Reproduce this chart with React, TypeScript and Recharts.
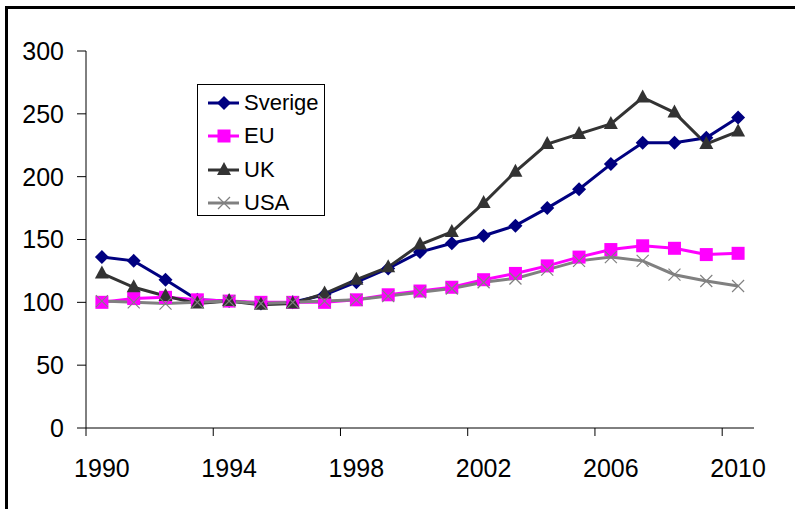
import React from 'react';
import { LineChart, Line, XAxis, YAxis, Legend } from 'recharts';

const years = [
  1990, 1991, 1992, 1993, 1994, 1995, 1996, 1997, 1998, 1999, 2000,
  2001, 2002, 2003, 2004, 2005, 2006, 2007, 2008, 2009, 2010,
];
const sverige = [136, 133, 118, 102, 101, 99, 100, 106, 116, 127, 140, 147, 153, 161, 175, 190, 210, 227, 227, 231, 247];
const eu = [100, 103, 104, 102, 101, 100, 100, 100, 102, 106, 109, 112, 118, 123, 129, 136, 142, 145, 143, 138, 139];
const uk = [123, 112, 105, 99, 101, 98, 99, 107, 118, 128, 146, 156, 179, 204, 226, 234, 242, 263, 251, 226, 236];
const usa = [101, 100, 99, 100, 101, 99, 100, 101, 102, 105, 108, 111, 116, 119, 126, 133, 136, 133, 122, 117, 113];
const yTicks = [0, 50, 100, 150, 200, 250, 300];

const data = years.map((year, i) => ({
  year,
  Sverige: sverige[i],
  EU: eu[i],
  UK: uk[i],
  USA: usa[i],
}));

const W = 795;
const H = 509;
const margin = { top: 51, right: 41, bottom: 21, left: 0 };
const Y_WIDTH = 86;
const X_HEIGHT = 60;
const plotWidth = W - margin.left - margin.right - Y_WIDTH;
const half = plotWidth / (years.length * 2);
const FONT = '"Liberation Sans", Arial, sans-serif';

const Diamond = ({ cx, cy, color }: any) => (
  <path d={`M${cx},${cy - 7}L${cx + 7},${cy}L${cx},${cy + 7}L${cx - 7},${cy}Z`} fill={color} />
);
const Square = ({ cx, cy, color }: any) => (
  <rect x={cx - 6.5} y={cy - 6.5} width={13} height={13} fill={color} />
);
const Triangle = ({ cx, cy, color }: any) => (
  <path d={`M${cx},${cy - 8}L${cx + 7},${cy + 5}L${cx - 7},${cy + 5}Z`} fill={color} />
);
const Cross = ({ cx, cy, color }: any) => (
  <g stroke={color} strokeWidth={1.2}>
    <line x1={cx - 6} y1={cy - 6} x2={cx + 6} y2={cy + 6} />
    <line x1={cx - 6} y1={cy + 6} x2={cx + 6} y2={cy - 6} />
  </g>
);

const series = [
  { key: 'Sverige', color: '#000080', Marker: Diamond },
  { key: 'EU', color: '#FF00FF', Marker: Square },
  { key: 'UK', color: '#333333', Marker: Triangle },
  { key: 'USA', color: '#808080', Marker: Cross },
];

// year labels sit on the points, tick marks sit between categories
const YearTick = (props: any) => {
  const { x, y, payload } = props;
  return (
    <g>
      <line x1={x - half} y1={y - 8} x2={x - half} y2={y} stroke="#000" />
      <text x={x} y={y + 41} textAnchor="middle" fill="#000" fontSize={25} fontFamily={FONT}>
        {payload.value}
      </text>
    </g>
  );
};

const renderLegend = () => (
  <div
    style={{
      width: 128,
      height: 132,
      border: '1px solid #000',
      background: '#fff',
      boxSizing: 'border-box',
      paddingTop: 1,
    }}
  >
    {series.map(({ key, color, Marker }) => (
      <div key={key} style={{ display: 'flex', alignItems: 'center', height: 33.5 }}>
        <svg width={46} height={20} style={{ flex: 'none' }}>
          <line x1={10} y1={10} x2={41} y2={10} stroke={color} strokeWidth={3} />
          <Marker cx={26} cy={10} color={color} />
        </svg>
        <span style={{ fontFamily: FONT, fontSize: 22, color: '#000', lineHeight: '22px' }}>{key}</span>
      </div>
    ))}
  </div>
);

export default function App() {
  return (
    <div style={{ position: 'fixed', left: 0, top: 0, width: W, height: H, background: '#fff', overflow: 'hidden' }}>
      <div
        style={{
          position: 'absolute',
          left: 5,
          top: 6,
          width: 1000,
          height: 1000,
          border: '3px solid #000',
        }}
      />
      <div style={{ position: 'absolute', left: 0, top: 0 }}>
        <LineChart width={W} height={H} data={data} margin={margin}>
          <XAxis
            dataKey="year"
            interval={3}
            height={X_HEIGHT}
            padding={{ left: half, right: half }}
            axisLine={{ stroke: '#000' }}
            tickLine={false}
            tickSize={8}
            tickMargin={0}
            tick={<YearTick />}
          />
          <XAxis
            xAxisId="top"
            orientation="top"
            dataKey="year"
            height={0}
            tick={false}
            tickLine={false}
            axisLine={{ stroke: '#808080' }}
          />
          <YAxis
            domain={[0, 300]}
            ticks={yTicks}
            width={Y_WIDTH}
            tickSize={9}
            tickMargin={13}
            axisLine={{ stroke: '#000' }}
            tickLine={{ stroke: '#000' }}
            tick={{ fill: '#000', fontSize: 25, fontFamily: FONT }}
          />
          <YAxis
            yAxisId="right"
            orientation="right"
            domain={[0, 300]}
            width={0}
            tick={false}
            tickLine={false}
            axisLine={{ stroke: '#808080' }}
          />
          {series.map(({ key, color, Marker }) => (
            <Line
              key={key}
              dataKey={key}
              stroke={color}
              strokeWidth={3}
              isAnimationActive={false}
              dot={(p: any) => <Marker key={`${key}-${p.index}`} cx={p.cx} cy={p.cy} color={color} />}
              activeDot={false}
            />
          ))}
          <Legend
            layout="vertical"
            align="center"
            verticalAlign="middle"
            content={renderLegend}
            wrapperStyle={{ left: 197, top: 84, width: 'auto' }}
          />
        </LineChart>
      </div>
    </div>
  );
}
